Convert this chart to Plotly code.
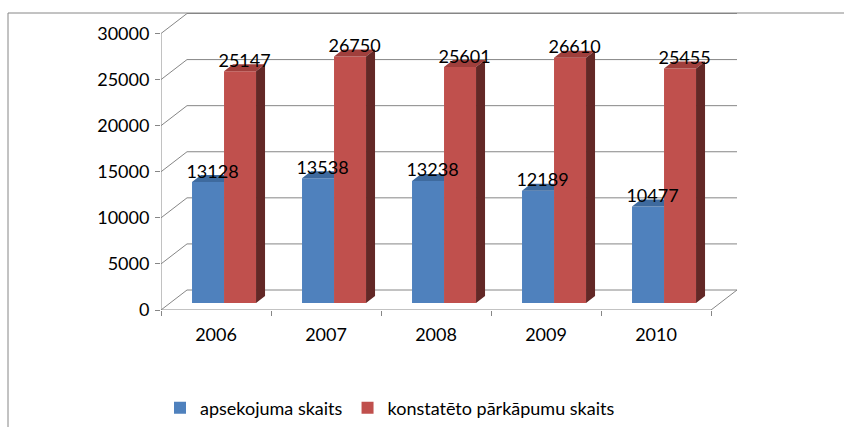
import plotly.graph_objects as go

# ---------------- data ----------------
years = ["2006", "2007", "2008", "2009", "2010"]
apsekojuma = [13128, 13538, 13238, 12189, 10477]
konstateto = [25147, 26750, 25601, 26610, 25455]
y_ticks = [0, 5000, 10000, 15000, 20000, 25000, 30000]
y_tick_labels = ["0", "5000", "10000", "15000", "20000", "25000", "30000"]
series_names = ["apsekojuma skaits", "konstatēto pārkāpumu skaits"]

# ---------------- geometry / style ----------------
W, H = 844, 427
L, R, T, B = 161, 740, 10, 310          # plot area in pixels
PX_CAT = 110.0                            # pixels per category
PX_UNIT = 276.5 / 30000.0                 # pixels per value unit
X0, X1 = -0.5, len(years) - 0.5
x_range = [X0, X0 + (R - L) / PX_CAT]
y_range = [0, (B - T) / PX_UNIT]

BACK_DX, BACK_DY = 26 / PX_CAT, 20 / PX_UNIT    # wall depth
FACE_DY = 7 / PX_UNIT                              # bar front-plane lift
DEP_DX, DEP_DY = 9 / PX_CAT, 7 / PX_UNIT           # bar depth
BAR_W = 0.291
OFF_BLUE, OFF_RED = -0.218, 0.073

BLUE, RED = "#4F81BD", "#C0504D"
BLUE_TOP, RED_TOP, RED_SIDE = "#3E6A9E", "#A03F3C", "#632826"
GRID = "#868686"
FONT = "Lato"
FS = 18

pos = list(range(len(years)))


def paper_x(px):
    return (px - L) / (R - L)


def paper_y(py):
    return (B - py) / (B - T)


fig = go.Figure()

fig.add_trace(go.Bar(x=pos, y=apsekojuma, base=FACE_DY, offset=OFF_BLUE, width=BAR_W,
                     marker=dict(color=BLUE, line=dict(width=0)), name=series_names[0]))
fig.add_trace(go.Bar(x=pos, y=konstateto, base=FACE_DY, offset=OFF_RED, width=BAR_W,
                     marker=dict(color=RED, line=dict(width=0)), name=series_names[1]))

# 3D faces computed from the data
bt_x, bt_y, rt_x, rt_y, rs_x, rs_y = [], [], [], [], [], []
for p, vb, vr in zip(pos, apsekojuma, konstateto):
    bl = p + OFF_BLUE
    br = bl + BAR_W
    tb = FACE_DY + vb
    bt_x += [bl, br, br, bl + DEP_DX, bl, None]
    bt_y += [tb, tb, tb + DEP_DY, tb + DEP_DY, tb, None]
    rl = p + OFF_RED
    rr = rl + BAR_W
    tr = FACE_DY + vr
    rt_x += [rl, rr, rr + DEP_DX, rl + DEP_DX, rl, None]
    rt_y += [tr, tr, tr + DEP_DY, tr + DEP_DY, tr, None]
    rs_x += [rr, rr, rr + DEP_DX, rr + DEP_DX, rr, None]
    rs_y += [FACE_DY, tr, tr + DEP_DY, FACE_DY + DEP_DY, FACE_DY, None]

for xs, ys, c in [(bt_x, bt_y, BLUE_TOP), (rt_x, rt_y, RED_TOP), (rs_x, rs_y, RED_SIDE)]:
    fig.add_trace(go.Scatter(x=xs, y=ys, mode="lines", fill="toself", fillcolor=c,
                             line=dict(width=0, color=c), showlegend=False, hoverinfo="skip"))

# data labels
lab_x, lab_y, lab_t = [], [], []
for off, vals in [(OFF_BLUE, apsekojuma), (OFF_RED, konstateto)]:
    for p, v in zip(pos, vals):
        lab_x.append(p + off + BAR_W / 2 + DEP_DX / 2)
        lab_y.append(FACE_DY + v + DEP_DY + 2 / PX_UNIT)
        lab_t.append(str(v))
fig.add_trace(go.Scatter(x=lab_x, y=lab_y, text=lab_t, mode="text", textposition="middle center",
                         textfont=dict(family=FONT, size=FS, color="black"),
                         showlegend=False, hoverinfo="skip"))

# walls, floor and axis lines
shapes = []
ln = dict(color=GRID, width=1)
for t in y_ticks:
    shapes.append(dict(type="line", xref="x", yref="y", x0=X0 + BACK_DX, x1=X1 + BACK_DX,
                       y0=t + BACK_DY, y1=t + BACK_DY, line=ln, layer="below"))
    shapes.append(dict(type="line", xref="x", yref="y", x0=X0, x1=X0 + BACK_DX,
                       y0=t, y1=t + BACK_DY, line=ln, layer="below"))
shapes.append(dict(type="line", xref="x", yref="y", x0=X0, x1=X0, y0=0, y1=y_ticks[-1], line=ln, layer="below"))
shapes.append(dict(type="line", xref="x", yref="y", x0=X0, x1=X1, y0=0, y1=0, line=ln, layer="below"))
shapes.append(dict(type="line", xref="x", yref="y", x0=X1, x1=X1 + BACK_DX, y0=0, y1=BACK_DY, line=ln, layer="below"))
# chart border
shapes.append(dict(type="line", xref="paper", yref="paper", x0=paper_x(8), x1=paper_x(8),
                   y0=paper_y(13), y1=paper_y(H + 5), line=ln))
shapes.append(dict(type="line", xref="paper", yref="paper", x0=paper_x(8), x1=paper_x(W + 5),
                   y0=paper_y(13), y1=paper_y(13), line=ln))

fig.update_layout(
    width=W, height=H, autosize=False,
    margin=dict(l=L, r=W - R, t=T, b=H - B, pad=0, autoexpand=False),
    plot_bgcolor="white", paper_bgcolor="white",
    font=dict(family=FONT, size=FS, color="black"),
    shapes=shapes,
    barmode="overlay",
    showlegend=True,
    legend=dict(orientation="h", xref="container", yref="container",
                x=390 / W, y=(H - 408) / H, xanchor="center", yanchor="middle",
                font=dict(family=FONT, size=FS), itemwidth=30, tracegroupgap=0,
                bgcolor="rgba(0,0,0,0)"),
    xaxis=dict(range=x_range, tickmode="array", tickvals=pos, ticktext=years, ticks="",
               showgrid=False, zeroline=False, showline=False, ticklabelstandoff=12,
               automargin=False,
               minor=dict(tickmode="array", tickvals=[X0 + i for i in range(len(years) + 1)],
                          ticks="outside", ticklen=5, tickcolor=GRID, showgrid=False)),
    yaxis=dict(range=y_range, tickmode="array", tickvals=y_ticks, ticktext=y_tick_labels,
               ticks="outside", ticklen=5, ticklabelstandoff=2, automargin=False,
               tickcolor=GRID, showgrid=False, zeroline=False, showline=False),
)

fig.write_html("out.html", config={"displayModeBar": False},
               post_script="document.body.style.margin='0';")
